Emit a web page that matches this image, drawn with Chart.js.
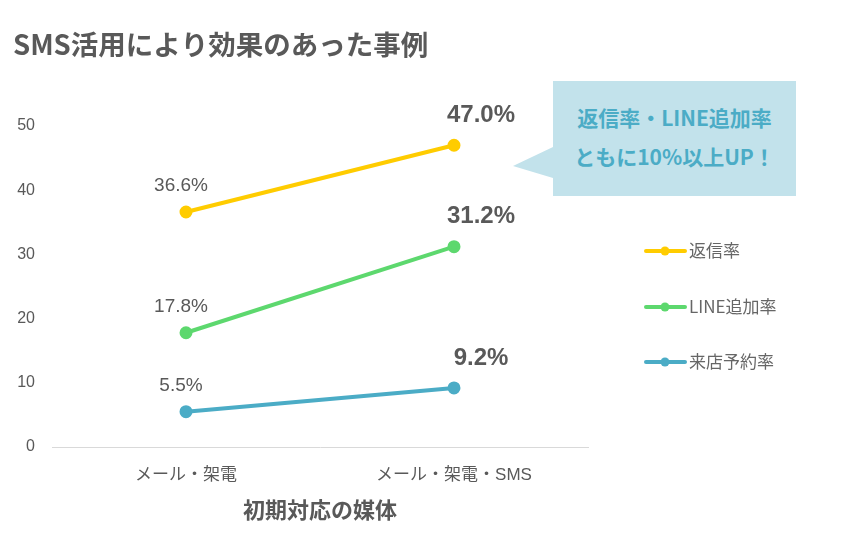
<!DOCTYPE html>
<html><head><meta charset="utf-8">
<script src="https://cdn.jsdelivr.net/npm/chart.js@4/dist/chart.umd.min.js"></script>
<style>
html,body{margin:0;padding:0;background:#fff;}
#wrap{position:relative;width:850px;height:553px;}
#callout{position:absolute;left:553px;top:81px;width:243px;height:115px;background:#C2E2EB;color:#4BACC6;font-family:"Noto Sans CJK JP","Noto Sans",sans-serif;font-weight:bold;font-size:21px;text-align:center;line-height:39px;padding-top:17px;box-sizing:border-box;white-space:nowrap;}
#callout:before{content:"";position:absolute;left:-40px;top:66px;border-style:solid;border-width:19px 40px 12px 0;border-color:transparent #C2E2EB transparent transparent;width:0;height:0;}
</style></head>
<body><div id="wrap"><canvas id="c" width="850" height="553"></canvas>
<div id="callout">返信率・LINE追加率<br>ともに10%以上UP！</div></div>
<script>
const titleText = "SMS活用により効果のあった事例";
const categories = ["メール・架電", "メール・架電・SMS"];
const xAxisTitle = "初期対応の媒体";
const seriesNames = ["返信率", "LINE追加率", "来店予約率"];
const replyRate = [36.6, 47.0];
const lineAddRate = [17.8, 31.2];
const visitRate = [5.5, 9.2];
const yTicks = [0, 10, 20, 30, 40, 50];
const colors = ["#FFCC00", "#5DD86E", "#4BACC6"];
const grey = "#595959";
const jp = '"Liberation Sans", "Noto Sans CJK JP", sans-serif';

const datasets = [replyRate, lineAddRate, visitRate].map((d, i) => ({
  label: seriesNames[i], data: d, borderColor: colors[i], backgroundColor: colors[i],
  borderWidth: 4, pointRadius: 4.5, pointHoverRadius: 4.5, tension: 0
}));

const extras = {
  id: 'extras',
  afterDraw(chart) {
    const ctx = chart.ctx;
    ctx.save();
    ctx.fillStyle = grey;
    ctx.font = 'bold 27.5px "Noto Sans CJK JP", sans-serif';
    ctx.textAlign = 'left'; ctx.textBaseline = 'middle';
    ctx.fillText(titleText, 13, 45);
    chart.data.datasets.forEach((ds, di) => {
      const meta = chart.getDatasetMeta(di);
      meta.data.forEach((pt, i) => {
        const v = ds.data[i].toFixed(1) + '%';
        ctx.textAlign = 'center'; ctx.textBaseline = 'middle'; ctx.fillStyle = grey;
        if (i === 0) { ctx.font = '19px "Liberation Sans", sans-serif'; ctx.fillText(v, pt.x - 5, pt.y - 26); }
        else { ctx.font = 'bold 24px "Liberation Sans", sans-serif'; ctx.fillText(v, pt.x + 27, pt.y - 30); }
      });
    });
    const ly = [251, 307, 362];
    chart.data.datasets.forEach((ds, di) => {
      const y = ly[di];
      ctx.strokeStyle = ds.borderColor; ctx.lineWidth = 4; ctx.lineCap = 'round';
      ctx.beginPath(); ctx.moveTo(646, y); ctx.lineTo(685, y); ctx.stroke();
      ctx.fillStyle = ds.borderColor; ctx.beginPath(); ctx.arc(665, y, 4.5, 0, Math.PI * 2); ctx.fill();
      ctx.fillStyle = '#666666'; ctx.font = '17px "Noto Sans CJK JP", sans-serif';
      ctx.textAlign = 'left'; ctx.textBaseline = 'middle';
      ctx.fillText(ds.label, 689, y);
    });
    ctx.restore();
  }
};

new Chart(document.getElementById('c'), {
  type: 'line',
  data: { labels: categories, datasets },
  options: {
    responsive: false, animation: false,
    layout: { padding: { left: 0, right: 262, top: 126, bottom: 0 } },
    plugins: { legend: { display: false }, tooltip: { enabled: false }, title: { display: false } },
    scales: {
      x: {
        offset: true,
        grid: { display: false, drawTicks: false },
        border: { display: true, color: '#D9D9D9', width: 1 },
        ticks: { color: grey, font: { family: jp, size: 17 }, padding: 18 },
        title: { display: true, text: xAxisTitle, color: grey, font: { family: '"Noto Sans CJK JP", sans-serif', size: 22, weight: 'bold' }, padding: { top: 6, bottom: 30 } },
        afterFit(s) { s.height = 106; }
      },
      y: {
        min: 0, max: 50,
        afterBuildTicks(s) { s.ticks = yTicks.map(v => ({ value: v })); },
        grid: { display: false, drawTicks: false },
        border: { display: false },
        ticks: { color: grey, font: { family: '"Liberation Sans", sans-serif', size: 16 }, padding: 17 },
        afterFit(s) { s.width = 52; }
      }
    }
  },
  plugins: [extras]
});
</script></body></html>
